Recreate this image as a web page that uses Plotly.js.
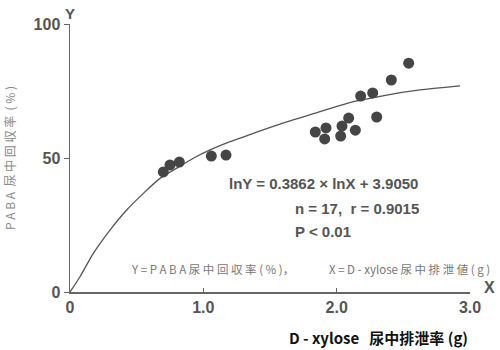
<!DOCTYPE html>
<html>
<head>
<meta charset="utf-8">
<script src="https://cdn.plot.ly/plotly-3.0.1.min.js"></script>
<style>html,body{margin:0;padding:0;background:#fff;}#chart{width:500px;height:350px;}</style>
</head>
<body>
<div id="chart"></div>
<script>
// Observed data (D-xylose urinary excretion g, PABA urinary recovery %)
const xyloseX = [0.70, 0.75, 0.82, 1.06, 1.17, 1.84, 1.92, 1.91, 2.03, 2.04, 2.09, 2.14, 2.18, 2.27, 2.30, 2.41, 2.54];
const pabaY   = [44.8, 47.4, 48.5, 50.7, 51.1, 59.7, 61.2, 57.1, 58.2, 61.9, 64.9, 60.4, 73.1, 74.3, 65.3, 79.1, 85.4];
const curveX = [0, 0.075, 0.175, 0.30, 0.425, 0.55, 0.675, 0.80, 0.925, 1.05, 1.20, 1.375, 1.625, 1.875, 2.125, 2.375, 2.625, 2.925];
const curveY = [0, 5.7, 14.4, 23.1, 30.6, 36.8, 42.4, 46.2, 49.9, 53.0, 56.1, 59.2, 63.5, 67.3, 71.0, 73.5, 75.4, 76.9];
const xTickVals = [0, 1, 2, 3];
const xTickText = ['0', '1.0', '2.0', '3.0'];
const yTickVals = [0, 50, 100];
const yTickText = ['0', '50', '100'];

const grey = '#555';
const jp = '"Noto Sans CJK JP", "Noto Sans", sans-serif';
const lat = 'Liberation Sans, Arial, sans-serif';
const data = [
  {x: curveX, y: curveY, mode: 'lines', line: {color: '#555', width: 1.3, shape: 'spline', smoothing: 0.6}, hoverinfo: 'skip'},
  {x: xyloseX, y: pabaY, mode: 'markers', marker: {color: '#454545', size: 11, line: {width: 0}}}
];
const bold = a => a.map(t => '<b>' + t + '</b>');
const layout = {
  width: 500, height: 350,
  margin: {l: 70, r: 30, t: 24, b: 58},
  showlegend: false,
  paper_bgcolor: '#fff', plot_bgcolor: '#fff',
  font: {family: jp, color: grey},
  xaxis: {
    range: [0, 3], tickvals: xTickVals, ticktext: bold(xTickText),
    showgrid: false, zeroline: false, showline: true, linecolor: '#666', linewidth: 1.5,
    ticks: 'inside', ticklen: 4, tickcolor: '#666',
    tickfont: {size: 16, color: grey, family: lat},
    fixedrange: true
  },
  yaxis: {
    range: [0, 100], tickvals: yTickVals, ticktext: bold(yTickText),
    showgrid: false, zeroline: false, showline: true, linecolor: '#666', linewidth: 1.5,
    ticks: 'outside', ticklen: 5, tickcolor: '#666',
    tickfont: {size: 16, color: grey, family: lat},
    title: {text: 'P A B A  尿 中 回 収 率  ( % )', font: {size: 12, color: '#888', family: jp}, standoff: 15},
    fixedrange: true
  },
  annotations: [
    {xref: 'paper', yref: 'paper', x: 0, y: 1, xanchor: 'center', yanchor: 'bottom', text: '<b>Y</b>', showarrow: false, font: {size: 15, color: grey, family: lat}},
    {xref: 'paper', yref: 'paper', x: 1, y: 0, xanchor: 'left', yanchor: 'bottom', xshift: 12, yshift: -6, text: '<b>X</b>', showarrow: false, font: {size: 16, color: grey, family: lat}},
    {xref: 'x', yref: 'y', x: 1.18, y: 40.5, xanchor: 'left', yanchor: 'middle', text: '<b>lnY = 0.3862 × lnX + 3.9050</b>', showarrow: false, font: {size: 15, color: grey, family: lat}},
    {xref: 'x', yref: 'y', x: 1.67, y: 31.3, xanchor: 'left', yanchor: 'middle', text: '<b>n = 17,  r = 0.9015</b>', showarrow: false, font: {size: 15, color: grey, family: lat}},
    {xref: 'x', yref: 'y', x: 1.67, y: 22.4, xanchor: 'left', yanchor: 'middle', text: '<b>P &lt; 0.01</b>', showarrow: false, font: {size: 15, color: grey, family: lat}},
    {xref: 'x', yref: 'y', x: 0.44, y: 8.6, xanchor: 'left', yanchor: 'middle', text: 'Y = P A B A 尿 中 回 収 率 ( % )，', showarrow: false, font: {size: 11.5, color: '#777', family: jp}},
    {xref: 'x', yref: 'y', x: 1.93, y: 8.6, xanchor: 'left', yanchor: 'middle', text: 'X = D - xylose 尿 中 排 泄 値 ( g )', showarrow: false, font: {size: 11.5, color: '#777', family: jp}},
    {xref: 'paper', yref: 'paper', x: 1, y: 0, xanchor: 'right', yanchor: 'middle', yshift: -45, text: '<b>D - xylose   尿中排泄率 (g)</b>', showarrow: false, font: {size: 15, color: '#111', family: jp}}
  ]
};
Plotly.newPlot('chart', data, layout, {staticPlot: true, displayModeBar: false});
</script>
</body>
</html>
